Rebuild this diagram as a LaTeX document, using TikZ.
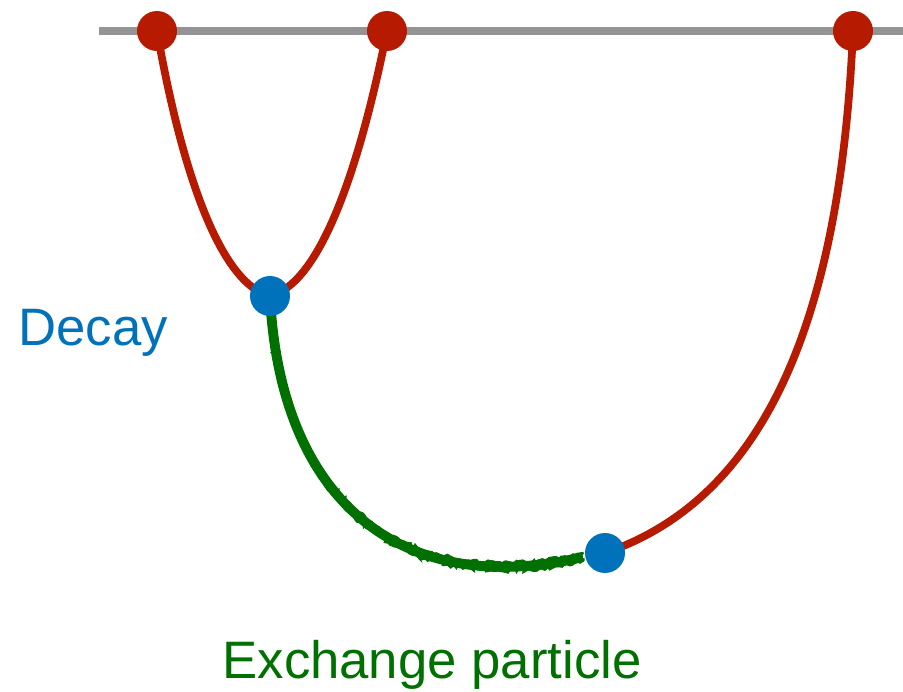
\documentclass[tikz,border=0pt]{standalone}
\usepackage{fontspec}
\setmainfont{Liberation Sans}
\usetikzlibrary{backgrounds,decorations.pathmorphing}
\definecolor{lred}{RGB}{182,26,0}
\definecolor{lblue}{RGB}{0,114,187}
\definecolor{lgreen}{RGB}{0,112,0}
\definecolor{lgray}{RGB}{148,148,148}
\begin{document}
\begin{tikzpicture}[x=0.02cm, y=-0.02cm, font=\fontsize{30}{36}\selectfont, line join=round, line cap=round,
	reddot/.style={circle, fill=lred, inner sep=0pt, minimum size=0.8cm},
	bluedot/.style={circle, fill=lblue, inner sep=0pt, minimum size=0.8cm},
	redline/.style={draw=lred, line width=4.4pt},
	greenline/.style={draw=lgreen, line width=5.6pt}]
	\useasboundingbox (0,0) rectangle (903,692);
	\def\ytop{31}
	% vertices
	\node[reddot] (t1) at (157,\ytop) {};
	\node[reddot] (t2) at (387,\ytop) {};
	\node[reddot] (t3) at (853,\ytop) {};
	\node[bluedot] (dec) at (270,296) {};
	\node[bluedot] (abs) at (605,553) {};
	\coordinate (gl) at (99,\ytop);
	\coordinate (gr) at (903,\ytop);
	\coordinate (gend) at (583,557);
	% labels
	\node[text=lblue] (decay) at (93,333) {Decay};
	\node[text=lgreen] (exch) at (432,665) {Exchange particle};
	\begin{scope}[on background layer]
		\draw[lgray, line width=4.4pt, line cap=butt] (gl)--(gr);
		\draw[redline] (t1.center) .. controls (185,190) and (225,285) .. (dec.center);
		\draw[redline] (t2.center) .. controls (355,190) and (315,285) .. (dec.center);
		\draw[redline] (t3.center) .. controls (840,330) and (760,500) .. (abs.center);
		% rough exchange line
		\draw[greenline] (dec.center) .. controls (280,500) and (400,600) .. (gend);
		\foreach \s in {-2.2,2.2}
		{\draw[lgreen, line width=1.4pt, decorate, decoration={random steps, segment length=1.5pt, amplitude=1.1pt}, transform canvas={yshift=\s pt}]
			(dec.center) .. controls (280,500) and (400,600) .. (gend);}
	\end{scope}
\end{tikzpicture}
\end{document}
